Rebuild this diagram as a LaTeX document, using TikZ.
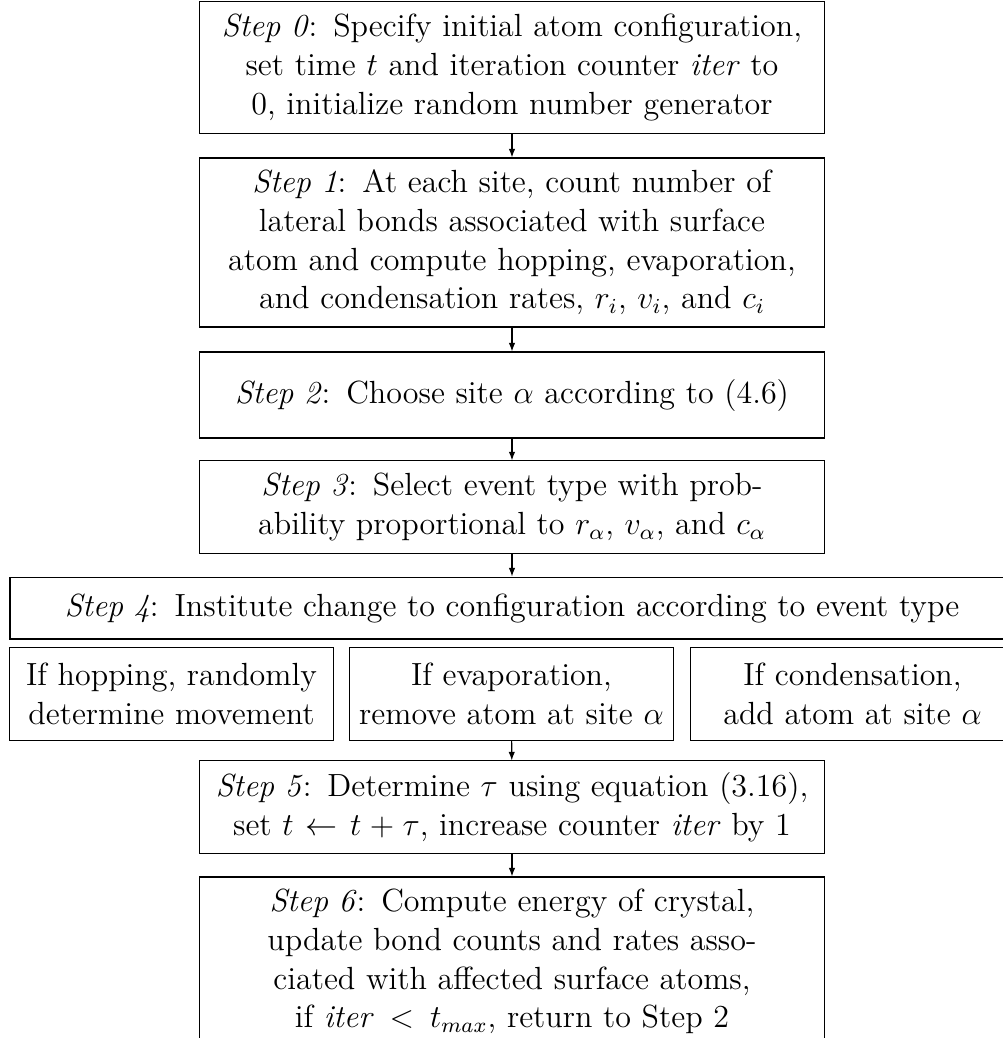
\documentclass[tikz,border=0pt]{standalone}
\usetikzlibrary{arrows.meta}

\tikzset{
  base/.style={draw, line width=0.4pt, inner sep=4pt, align=center,
    font=\fontsize{12}{14.5}\selectfont},
  colbox/.style={base, text width=226.4pt, minimum width=234.4pt},
  widebox/.style={base, text width=368pt, minimum width=376pt},
  subbox/.style={base, inner xsep=1pt, text width=119pt, minimum width=121pt},
  flow/.style={-{Latex[length=3.2pt,width=2.4pt]}, line width=0.4pt},
}

\begin{document}
\begin{tikzpicture}[x=0.3745pt, y=-0.3745pt]
  \useasboundingbox (0,0) rectangle (1003,1038);

  % main column of steps
  \node[colbox, minimum height=49.1pt] (s0) at (512,67.5)
    {\emph{Step 0}: Specify initial atom configuration,\\
     set time $t$ and iteration counter \emph{iter} to\\
     0, initialize random number generator};

  \node[colbox, minimum height=63.3pt] (s1) at (512,242.5)
    {\emph{Step 1}: At each site, count number of\\
     lateral bonds associated with surface\\
     atom and compute hopping, evaporation,\\
     and condensation rates, $r_i$, $v_i$, and $c_i$};

  \node[colbox, minimum height=32.2pt] (s2) at (512,395)
    {\emph{Step 2}: Choose site $\alpha$ according to (4.6)};

  \node[colbox, minimum height=34.5pt] (s3) at (512,507)
    {\emph{Step 3}: Select event type with prob-\\
     ability proportional to $r_\alpha$, $v_\alpha$, and $c_\alpha$};

  \node[widebox, minimum height=23.2pt] (s4) at (512,608)
    {\emph{Step 4}: Institute change to configuration according to event type};

  % the three possible event types
  \node[subbox, minimum height=34.5pt] (hop) at (171.5,694)
    {If hopping, randomly\\ determine movement};
  \node[subbox, minimum height=34.5pt] (evap) at (511.5,694)
    {If evaporation,\\ remove atom at site $\alpha$};
  \node[subbox, minimum height=34.5pt] (cond) at (852.5,694)
    {If condensation,\\ add atom at site $\alpha$};

  \node[colbox, minimum height=34.5pt] (s5) at (512,807)
    {\emph{Step 5}: Determine $\tau$ using equation (3.16),\\
     set $t \leftarrow t + \tau$, increase counter \emph{iter} by 1};

  \node[colbox, minimum height=63.3pt] (s6) at (512,961.5)
    {\emph{Step 6}: Compute energy of crystal,\\
     update bond counts and rates asso-\\
     ciated with affected surface atoms,\\
     if \emph{iter} \,$<$\, $t_{max}$, return to Step 2};

  % connectors
  \draw[flow] (s0) -- (s1);
  \draw[flow] (s1) -- (s2);
  \draw[flow] (s2) -- (s3);
  \draw[flow] (s3) -- (s4);
  \draw[flow] (evap) -- (s5);
  \draw[flow] (s5) -- (s6);
\end{tikzpicture}
\end{document}
